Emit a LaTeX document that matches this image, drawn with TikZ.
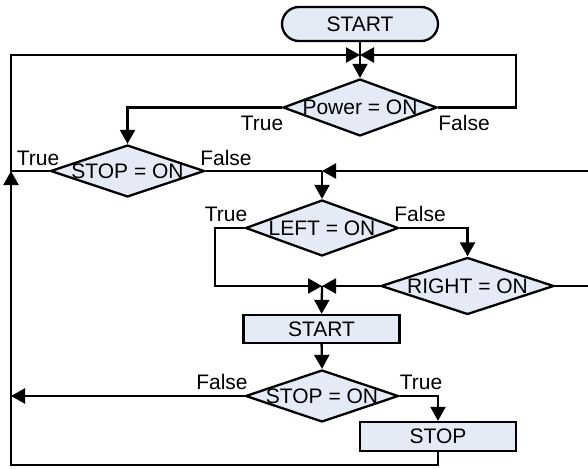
\documentclass[tikz,border=0pt]{standalone}
\usepackage{fontspec}
\setmainfont{Liberation Sans}
\usetikzlibrary{arrows.meta,shapes.geometric}
\definecolor{boxfill}{RGB}{228,234,246}
\begin{document}
\begin{tikzpicture}[x=1pt,y=-1pt,
  every node/.style={font=\fontsize{21}{24}\selectfont},
  link/.style={line width=2.3pt},
  arr/.style={link,-{Triangle[length=14pt,width=15pt]}},
  decision/.style={diamond,draw,line width=2.3pt,fill=boxfill,inner sep=0pt,aspect=1},
  proc/.style={rectangle,draw,line width=2.3pt,fill=boxfill,inner sep=0pt},
  lbl/.style={inner sep=0pt}]
\clip (0,0) rectangle (588,468);
% nodes
\node[proc,rounded corners=17pt,minimum width=156pt,minimum height=34pt] (start0) at (360,24) {START};
\node[decision,minimum width=154pt,minimum height=57pt] (power) at (360,107.5) {\makebox[0pt]{Power = ON}};
\node[decision,minimum width=154pt,minimum height=52pt] (stop1) at (127.5,171) {\makebox[0pt]{STOP = ON}};
\node[decision,minimum width=153pt,minimum height=56pt] (left) at (322,228) {\makebox[0pt]{LEFT = ON}};
\node[decision,minimum width=173pt,minimum height=57pt] (right) at (467.5,286) {\makebox[0pt]{RIGHT = ON}};
\node[proc,minimum width=156pt,minimum height=28pt] (startbox) at (321.6,329) {START};
\node[decision,minimum width=153pt,minimum height=52pt] (stop2) at (322,396) {\makebox[0pt]{STOP = ON}};
\node[proc,minimum width=156pt,minimum height=29pt] (stopbox) at (438,436.5) {STOP};
% labels
\node[lbl] (tpow) at (262,123) {True};
\node[lbl] (fpow) at (464,123) {False};
\node[lbl] (tst1) at (38,158) {True};
\node[lbl] (fst1) at (226,158) {False};
\node[lbl] (tleft) at (226,214) {True};
\node[lbl] (fleft) at (420,214) {False};
\node[lbl] (fst2) at (222,382) {False};
\node[lbl] (tst2) at (421,382) {True};
% coordinates
\coordinate (j1) at (360,55);
\coordinate (j2) at (322,171);
\coordinate (j3) at (322,286);
\coordinate (lt) at (11,55);
\coordinate (lm) at (11,171);
\coordinate (lb) at (11,465);
\coordinate (ls2) at (11,396);
\coordinate (rt) at (516,55);
\coordinate (rtop) at (600,171);
\coordinate (lw) at (215,286);
% connectors
\draw[arr] (start0.south) -- (power.north);
\draw[arr] (stop1.west) -- (lm) -- (lt) -- (j1);
\draw[arr] (power.east) -| (rt) -- (j1);
\draw[arr] (power.west) -| (stop1.north);
\draw[link] (stop1.east) -- (j2);
\draw[arr] (right.east) -| (rtop) -- (j2);
\draw[arr] (j2) -- (left.north);
\draw[arr] (left.west) -| (lw) -- (j3);
\draw[arr] (left.east) -| (right.north);
\draw[arr] (right.west) -- (j3);
\draw[arr] (j3) -- (startbox.north);
\draw[arr] (startbox.south) -- (stop2.north);
\draw[arr] (stop2.west) -- (ls2);
\draw[arr] (stop2.east) -| (stopbox.north);
\draw[arr] (stopbox.south) |- (lb) -- (lm);
\end{tikzpicture}
\end{document}
